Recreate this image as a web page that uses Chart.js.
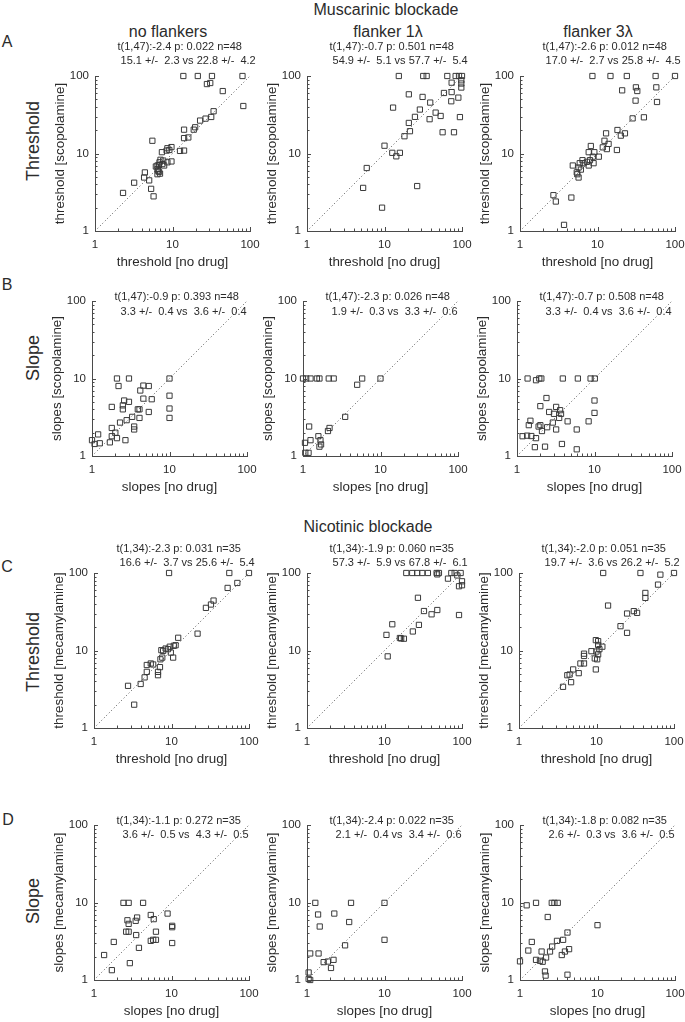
<!DOCTYPE html>
<html>
<head>
<meta charset="utf-8">
<script src="https://cdn.jsdelivr.net/npm/chart.js@4.4.0/dist/chart.umd.min.js"></script>
<style>
  body { margin: 0; background: #fff; width: 685px; height: 1022px; position: relative; overflow: hidden;
         font-family: "Liberation Sans", Arial, sans-serif; color: #2b2b2b; }
  canvas { position: absolute; }
  .lbl { position: absolute; transform: translate(-50%, -50%); white-space: nowrap; font-size: 16px; }
  .row { position: absolute; transform: translate(-50%, -50%) rotate(-90deg); white-space: nowrap; font-size: 18px; }
</style>
</head>
<body>
<div class="lbl" style="left:386px;top:10px">Muscarinic blockade</div>
<div class="lbl" style="left:168px;top:32px">no flankers</div>
<div class="lbl" style="left:388px;top:32px">flanker 1λ</div>
<div class="lbl" style="left:598px;top:32px">flanker 3λ</div>
<div class="lbl" style="left:368px;top:527px">Nicotinic blockade</div>
<div class="lbl" style="left:7px;top:42px">A</div>
<div class="lbl" style="left:7px;top:285px">B</div>
<div class="lbl" style="left:7px;top:567px">C</div>
<div class="lbl" style="left:8px;top:820px">D</div>
<div class="row" style="left:33px;top:141px">Threshold</div>
<div class="row" style="left:33px;top:358px">Slope</div>
<div class="row" style="left:33px;top:652px">Threshold</div>
<div class="row" style="left:33px;top:901px">Slope</div>

<script>
// Tick-värden för log-axlarna
const majorTicks = [1, 10, 100];
const minorTicks = [2, 3, 4, 5, 6, 7, 8, 9, 20, 30, 40, 50, 60, 70, 80, 90];
const diagonal = [1, 100];

// Muskarin: tröskel (no drug vs scopolamine)
const a1NoDrug = [13.8,21.2,32.3,80,27.8,30.7,44.5,82,33.9,31.6,26.7,22.7,19.6,18.8,14.1,14.1,16.0,14.1,12.5,9.7,8.6,8.4,7.3,9.1,5.5,9.7,8.6,7.6,7.4,6.7,6.4,6.8,6.4,6.7,6.4,6.9,4.4,4.3,5.0,3.2,5.3,5.7,2.3,7.0,6.1,7.8,6.5];
const a1Drug   = [100,100,100,100,78.7,81.2,63.9,41,35.1,29.6,28.2,26.6,21.8,20.3,20.3,15.8,16.1,10.9,10.8,12.1,11.7,10.9,10.4,11.1,14.6,7.9,7.7,8.1,7.3,7.1,7.0,7.7,6.3,5.8,5.4,5.5,5.7,4.9,4.5,4.2,3.5,2.8,3.1,8.3,6.8,7.0,6.0];
const a2NoDrug = [15.3,31.6,35,64.6,82.8,91.5,100,98,98,98,73.5,20.6,31,58.5,73.5,89.7,72.7,38.9,12.9,28.6,45.7,53,24.7,94,38.2,20.6,21.3,18.1,56.2,78.8,10,12.6,14.2,15.8,5.9,5.3,26.4,9.3];
const a2Drug   = [100,100,100,100,100,100,100,88,80,71,82,58,53.7,60.4,62,52.6,47.2,45.4,39.1,36.9,33.7,30.5,29.7,29.5,27.7,24.8,19.4,16.7,18.8,18.8,12.6,10.2,9.2,10.2,6.5,3.6,3.8,2.0];
const a3NoDrug = [8.6,14.7,23.9,56.2,100,20.8,31.3,32.6,57.4,58.6,31,28.4,39.7,18.1,20,22.6,17.8,12.9,12.3,13.9,11.7,13.2,8.2,7.7,9.1,10.4,8.7,8.0,8.9,7.3,7.7,6.6,6.4,5.9,5.7,4.8,5.4,5.7,5.5,6.1,2.7,2.9,4.6,3.7];
const a3Drug   = [100,100,100,100,100,65.3,71.4,64,71.4,46.2,48.1,28.4,29.3,20.1,17,18.2,11.1,18.2,14.6,13.3,12,11.4,12.5,10.4,10.4,9.1,9.1,8.2,7.5,7.8,7.0,7.5,8.2,7.5,6.6,7.0,5.7,4.9,5.4,6.2,2.9,2.4,2.7,1.2];

// Muskarin: lutning
const b1NoDrug = [2.1,3.0,10,2.2,4.2,4.6,5.4,10,4.6,5.9,2.6,3.0,2.5,2.5,3.9,4.1,1.8,10,5.4,10,4.1,3.3,2.8,2.3,3.5,3.5,1.8,2.0,2.1,1.8,1.2,1.7,2.7,1.26,1.0,1.08];
const b1Drug   = [10,10,10,8.0,7.0,8.1,8.0,6.0,5.5,5.4,5.2,5.0,4.5,4.0,4.0,4.0,4.3,4.1,3.7,3.1,3.1,3.2,2.9,2.7,2.4,2.2,2.3,2.0,1.7,1.8,1.9,1.5,1.6,1.46,1.6,1.43];
const b2NoDrug = [1.0,1.1,1.25,1.51,1.63,2.15,2.49,5.8,10,5.0,3.5,2.2,2.1,1.2,1.25,1.58,1.68,1.71,1.63,1.06,1.07,1.18];
const b2Drug   = [10,10,10,10,10,10,10,10,10,8.3,3.2,2.3,2.1,2.4,1.6,1.8,1.6,1.41,1.32,1.48,1.1,1.1];
const b3NoDrug = [1.37,1.94,2.06,3.9,6.1,8.9,10.1,1.76,2.4,2.0,10,10,3.2,2.6,3.0,3.6,3.7,3.5,4.5,8.4,1.49,2.9,1.42,1.9,2.0,2.1,2.45,3.2,5.9,1.18,1.35,1.53,1.76,1.7,2.3,3.8,5.9];
const b3Drug   = [10,10,10,10,10,10,10,9.5,5.6,4.4,5.2,3.6,4.3,3.7,3.5,3.9,3.5,3.1,2.8,2.8,2.85,2.7,2.5,2.4,2.5,2.1,2.35,2.2,2.2,1.8,1.83,1.81,1.7,1.3,1.32,1.43,1.22];

// Nikotin: tröskel (no drug vs mecamylamine)
const c1NoDrug = [9.3,55.7,100,70.7,53,34.9,32.3,27.8,21.7,12.2,11.3,10.7,9.5,9.0,9.8,8.4,7.8,7.4,7.6,7.2,10.5,7.1,6.7,6.7,5.4,5.8,4.8,4.8,4.5,4.0,2.75,3.3];
const c1Drug   = [100,100,100,74.4,64.2,44.1,39.2,35.5,16.5,14.6,11.7,11.5,11.2,10.4,9.4,10.6,9.9,10.1,8.1,7.7,8.1,6.1,5.3,4.8,6.8,6.6,6.5,5.3,4.5,3.7,3.5,2.0];
const c2NoDrug = [19.1,22.8,26.4,30.7,36.3,47,50.4,72.8,80.4,96.1,48,65.9,87,100,91.5,100,27,48,32.3,40.5,91.5,27.8,23.2,12.6,10.6,15.8,17.8,16.4,11.0];
const c2Drug   = [100,100,100,100,100,100,100,100,100,100,96,84.6,93,78.2,67.5,69.5,47.9,33.3,32.3,29.3,28.7,21.4,17.6,21.8,15.9,14.5,14.2,14.3,8.4];
const c3NoDrug = [12.2,36.9,66.7,100,62.2,42.7,42.7,14.1,30.3,33.4,24.8,20.4,24.8,11.9,9.8,10.5,10.5,10.9,8.6,10,10.5,9.5,10.2,6.9,6.9,6.9,6.2,9.8,5.9,5.0,4.2,4.5,4.7,3.7];
const c3Drug   = [100,100,95.2,100,70.8,55.3,47.7,38,32.2,30.6,30,20.6,16.9,11.2,13.6,13.2,11.8,10.4,9.8,9.7,8.9,7.9,7.7,9.1,8.5,6.8,6.8,5.7,5.1,5.7,4.8,4.9,3.9,3.4];

// Nikotin: lutning
const d1NoDrug = [2.4,2.8,4.3,8.9,5.4,5.9,3.6,3.45,2.7,2.8,10.2,10.2,2.6,2.8,6.3,3.5,10.2,5.8,6.3,5.4,1.8,3.8,1.35,2.9,1.7];
const d1Drug   = [9.9,9.9,9.9,7.2,6.9,6.1,6.4,5.8,5.9,5.3,5.0,4.8,4.2,4.2,4.2,3.8,3.0,3.3,3.3,3.2,3.1,2.6,2.1,1.65,1.34];
const d2NoDrug = [1.28,3.7,10,1.39,2.25,1.46,3.5,10,3.1,1.1,1.41,1.64,1.86,2.2,2.04,1.05,1.05,1.1];
const d2Drug   = [9.9,9.9,9.9,7.0,7.2,4.9,5.6,3.3,2.8,2.2,2.2,1.7,1.73,1.82,1.43,1.25,1.03,1.0];
const d3NoDrug = [1.22,1.61,2.57,2.78,3.07,2.28,10,4.1,3.6,3.0,1.42,2.6,1.28,2.44,4.3,3.8,3.46,1.9,2.17,1.61,1.81,1.96,1.0,2.1,2.14,4.1];
const d3Drug   = [9.2,9.9,9.9,9.9,9.9,6.5,5.1,4.1,3.3,3.2,3.1,2.7,2.4,2.33,2.5,2.33,2.1,2.33,1.95,1.82,1.77,1.72,1.74,1.29,1.14,1.17];

// Statistiktexter per panel
const statsA = [
  ['t(1,47):-2.4 p: 0.022 n=48', ' 15.1 +/-  2.3 vs 22.8 +/-  4.2'],
  ['t(1,47):-0.7 p: 0.501 n=48', ' 54.9 +/-  5.1 vs 57.7 +/-  5.4'],
  ['t(1,47):-2.6 p: 0.012 n=48', ' 17.0 +/-  2.7 vs 25.8 +/-  4.5']
];
const statsB = [
  ['t(1,47):-0.9 p: 0.393 n=48', '  3.3 +/-  0.4 vs  3.6 +/-  0.4'],
  ['t(1,47):-2.3 p: 0.026 n=48', '  1.9 +/-  0.3 vs  3.3 +/-  0.6'],
  ['t(1,47):-0.7 p: 0.508 n=48', '  3.3 +/-  0.4 vs  3.6 +/-  0.4']
];
const statsC = [
  ['t(1,34):-2.3 p: 0.031 n=35', ' 16.6 +/-  3.7 vs 25.6 +/-  5.4'],
  ['t(1,34):-1.9 p: 0.060 n=35', ' 57.3 +/-  5.9 vs 67.8 +/-  6.1'],
  ['t(1,34):-2.0 p: 0.051 n=35', ' 19.7 +/-  3.6 vs 26.2 +/-  5.2']
];
const statsD = [
  ['t(1,34):-1.1 p: 0.272 n=35', '  3.6 +/-  0.5 vs  4.3 +/-  0.5'],
  ['t(1,34):-2.4 p: 0.022 n=35', '  2.1 +/-  0.4 vs  3.4 +/-  0.6'],
  ['t(1,34):-1.8 p: 0.082 n=35', '  2.6 +/-  0.3 vs  3.6 +/-  0.5']
];

const FONT = '"Liberation Sans", Arial, sans-serif';
const TEXT = '#2b2b2b';
const AXIS = '#4a4a4a';
const PLOT = 155;      // plottens sida i px
const PAD_L = 62, PAD_T = 40, PAD_R = 20, PAD_B = 42;

// Rader: plottens vänsterkant per kolumn, överkant, axeltitlar, textavstånd
const rows = [
  { lefts: [95, 307, 520], top: 76,  xt: 'threshold [no drug]', yt: 'threshold [scopolamine]', dy: [-29, -15], stats: statsA,
    data: [[a1NoDrug, a1Drug], [a2NoDrug, a2Drug], [a3NoDrug, a3Drug]] },
  { lefts: [92, 303, 517], top: 301, xt: 'slopes [no drug]', yt: 'slopes [scopolamine]', dy: [-4, 11], stats: statsB,
    data: [[b1NoDrug, b1Drug], [b2NoDrug, b2Drug], [b3NoDrug, b3Drug]] },
  { lefts: [94, 307, 519], top: 573, xt: 'threshold [no drug]', yt: 'threshold [mecamylamine]', dy: [-24, -10], stats: statsC,
    data: [[c1NoDrug, c1Drug], [c2NoDrug, c2Drug], [c3NoDrug, c3Drug]] },
  { lefts: [94, 307, 520], top: 825, xt: 'slopes [no drug]', yt: 'slopes [mecamylamine]', dy: [-4, 10], stats: statsD,
    data: [[d1NoDrug, d1Drug], [d2NoDrug, d2Drug], [d3NoDrug, d3Drug]] }
];

// Plugin: inåtriktade tickstreck (MATLAB-stil) och statistikrader
const decorPlugin = {
  id: 'decor',
  afterDraw(chart, args, opts) {
    const { ctx, chartArea: a, scales: { x, y } } = chart;
    ctx.save();
    ctx.strokeStyle = AXIS;
    ctx.lineWidth = 1;
    ctx.beginPath();
    majorTicks.concat(minorTicks).forEach(v => {
      const len = majorTicks.includes(v) ? 4 : 2.5;
      const px = Math.round(x.getPixelForValue(v)) + 0.5;
      ctx.moveTo(px, a.bottom); ctx.lineTo(px, a.bottom - len);
      const py = Math.round(y.getPixelForValue(v)) + 0.5;
      ctx.moveTo(a.left, py); ctx.lineTo(a.left + len, py);
    });
    ctx.stroke();
    ctx.fillStyle = TEXT;
    ctx.font = '11px ' + FONT;
    ctx.textAlign = 'left';
    ctx.textBaseline = 'middle';
    const x0 = (a.left + a.right) / 2 - 55;
    opts.lines.forEach((t, i) => ctx.fillText(t, x0, a.top + opts.dy[i]));
    ctx.restore();
  }
};

function logAxis(title, isY) {
  return {
    type: 'logarithmic',
    min: 1,
    max: 100,
    afterBuildTicks: s => { s.ticks = majorTicks.map(v => ({ value: v })); },
    afterFit: s => { if (isY) s.width = PAD_L; else s.height = PAD_B; },
    grid: { display: false, drawTicks: false },
    border: { display: true, color: AXIS, width: 1 },
    ticks: { color: TEXT, font: { family: FONT, size: 11.5 }, padding: isY ? 6 : 7,
             callback: v => String(v) },
    title: { display: true, text: title, color: TEXT, font: { family: FONT, size: 13.4 },
             padding: isY ? { top: 19, bottom: 0 } : { top: 0, bottom: 3 } }
  };
}

rows.forEach(row => {
  row.lefts.forEach((left, col) => {
    const cv = document.createElement('canvas');
    cv.width = PAD_L + PLOT + PAD_R;
    cv.height = PAD_T + PLOT + PAD_B;
    cv.style.left = (left - PAD_L) + 'px';
    cv.style.top = (row.top - PAD_T) + 'px';
    document.body.appendChild(cv);
    const [xs, ys] = row.data[col];
    new Chart(cv, {
      type: 'scatter',
      data: {
        datasets: [
          {
            data: xs.map((v, i) => ({ x: v, y: ys[i] })),
            pointStyle: 'rect',
            pointRadius: 3.7,
            borderColor: '#3a3a3a',
            backgroundColor: 'rgba(0,0,0,0)',
            borderWidth: 1,
            clip: false
          },
          {
            type: 'line',
            data: diagonal.map(v => ({ x: v, y: v })),
            borderColor: '#505050',
            borderWidth: 1,
            borderDash: [1, 2.5],
            pointRadius: 0,
            fill: false
          }
        ]
      },
      options: {
        responsive: false,
        animation: false,
        devicePixelRatio: 1,
        layout: { padding: { left: 0, top: PAD_T, right: PAD_R, bottom: 0 } },
        plugins: {
          legend: { display: false },
          tooltip: { enabled: false },
          decor: { lines: row.stats[col], dy: row.dy }
        },
        scales: { x: logAxis(row.xt, false), y: logAxis(row.yt, true) }
      },
      plugins: [decorPlugin]
    });
  });
});
</script>
</body>
</html>
